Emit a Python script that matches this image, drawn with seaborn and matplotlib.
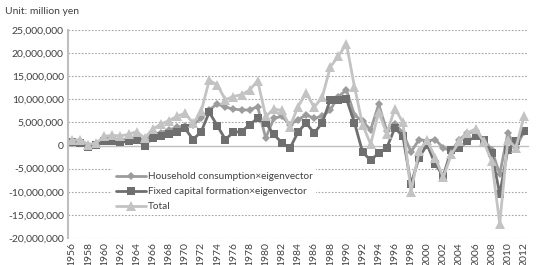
import numpy as np
import pandas as pd
import matplotlib
matplotlib.use("Agg")
import matplotlib.pyplot as plt
import seaborn as sns
from matplotlib.ticker import FuncFormatter, MultipleLocator

# 年份 1956-2012
years = list(range(1956, 2013))

# 单位：百万（纵轴显示时再乘 1,000,000）
household = [0.5, 0.6, 0.1, 0.4, 1.0, 1.2, 1.3, 1.4, 1.6, 1.2,
             2.3, 2.8, 3.4, 3.9, 4.3, 4.5, 5.9, 7.7, 9.0, 8.3,
             7.9, 7.7, 7.7, 8.4, 1.6, 5.9, 6.3, 4.5, 5.6, 6.6,
             5.9, 6.3, 7.7, 10.6, 12.0, 6.6, 5.2, 3.4, 8.9, 3.2,
             4.6, 2.8, -1.4, 1.3, 1.0, 1.3, -0.5, -1.2, 1.3, 2.7,
             3.1, 1.3, -0.9, -6.2, 2.7, -0.5, 3.0]
fixed_capital = [0.7, 0.6, -0.3, 0.2, 0.9, 0.9, 0.7, 0.9, 1.3, 0.0,
                 1.6, 2.0, 2.4, 3.0, 3.7, 1.3, 3.0, 7.2, 4.3, 1.3,
                 2.9, 3.0, 4.5, 5.9, 4.9, 2.4, 0.6, -0.6, 2.9, 4.9,
                 2.7, 4.9, 9.9, 9.9, 10.1, 4.9, -1.4, -3.2, -1.6, -0.5,
                 3.8, 2.0, -8.4, -2.6, 0.2, -4.0, -6.6, -0.9, -0.5, 0.9,
                 2.0, 1.3, -1.6, -10.5, -0.9, 0.9, 3.1]
total = [1.1, 1.3, 0.2, 0.6, 2.0, 2.2, 2.1, 2.4, 3.0, 1.6,
         3.6, 4.6, 5.4, 6.3, 7.0, 4.8, 7.4, 14.1, 13.1, 9.9,
         10.6, 11.0, 12.0, 14.0, 6.3, 7.9, 7.6, 4.1, 8.4, 11.4,
         8.3, 10.4, 17.0, 19.3, 22.0, 12.7, 4.5, 0.3, 7.2, 2.6,
         8.0, 5.0, -10.1, -1.2, 1.1, -2.6, -6.9, -1.9, 0.9, 2.7,
         3.6, 0.9, -3.4, -16.9, 1.3, -0.5, 6.3]

labels = ["Household consumption\u00d7eigenvector",
          "Fixed capital formation\u00d7eigenvector",
          "Total"]

df = pd.DataFrame({"year": years, "household": household,
                   "fixed": fixed_capital, "total": total})

sns.set_style("white")
plt.rcParams["font.family"] = ["Lato", "DejaVu Sans"]

fig = plt.figure(figsize=(5.45, 2.65), dpi=100)
ax = fig.add_axes([0.1248, 0.1019, 0.8440, 0.7851])

# 画三条线
sns.lineplot(data=df, x="year", y="household", ax=ax, color="#9c9c9c",
             marker="D", markersize=4.5, markeredgewidth=0, linewidth=2.0,
             label=labels[0])
sns.lineplot(data=df, x="year", y="fixed", ax=ax, color="#6f6f6f",
             marker="s", markersize=6, markeredgewidth=0, linewidth=2.0,
             label=labels[1])
sns.lineplot(data=df, x="year", y="total", ax=ax, color="#c3c3c3",
             marker="^", markersize=6.5, markeredgewidth=0, linewidth=2.0,
             label=labels[2])

ax.set_xlim(1955.5, 2012.5)
ax.set_ylim(-20, 25)
ax.yaxis.set_major_locator(MultipleLocator(5))
ax.yaxis.set_major_formatter(FuncFormatter(lambda v, p: f"{v * 1e6:,.0f}"))
ax.tick_params(axis="y", length=0, labelsize=7.5, labelcolor="#404040", pad=3)

# 网格（点线），0 线单独画实线
for v in range(-20, 30, 5):
    if v != 0:
        ax.axhline(v, color="#a6a6a6", linestyle=(0, (1.5, 1.5)), linewidth=0.8, zorder=0)

for s in ["top", "right"]:
    ax.spines[s].set_visible(False)
ax.spines["left"].set_color("#bfbfbf")
ax.spines["left"].set_linewidth(1.5)
ax.spines["bottom"].set_position(("data", 0))
ax.spines["bottom"].set_color("#bfbfbf")
ax.spines["bottom"].set_linewidth(1.0)
ax.spines["bottom"].set_zorder(0.5)

# 横轴：0 线上的刻度，标签放在底部
ax.set_xticks([y + 0.5 for y in years[:-1]])
ax.tick_params(axis="x", direction="out", length=3, color="#bfbfbf",
               labelbottom=False)
ax.set_xlabel("")
ax.set_ylabel("")

sec = ax.secondary_xaxis("bottom")
sec.set_xticks(years[::2])
sec.set_xticklabels([str(y) for y in years[::2]], rotation=90)
sec.tick_params(length=0, labelsize=7.5, labelcolor="#404040", pad=3)
sec.spines["bottom"].set_visible(False)

leg = ax.legend(loc="upper left", bbox_to_anchor=(0.085, 0.36), frameon=True,
                fontsize=7.2, handlelength=3.0, handletextpad=0.15,
                labelspacing=0.6, borderpad=0.4, framealpha=1)
leg.get_frame().set_edgecolor("white")
leg.get_frame().set_linewidth(0)
for t in leg.get_texts():
    t.set_color("#404040")

fig.text(0.009, 0.955, "Unit: million yen", fontsize=7.5, color="#404040",
         va="center", ha="left")

fig.savefig("out.png", dpi=100)
